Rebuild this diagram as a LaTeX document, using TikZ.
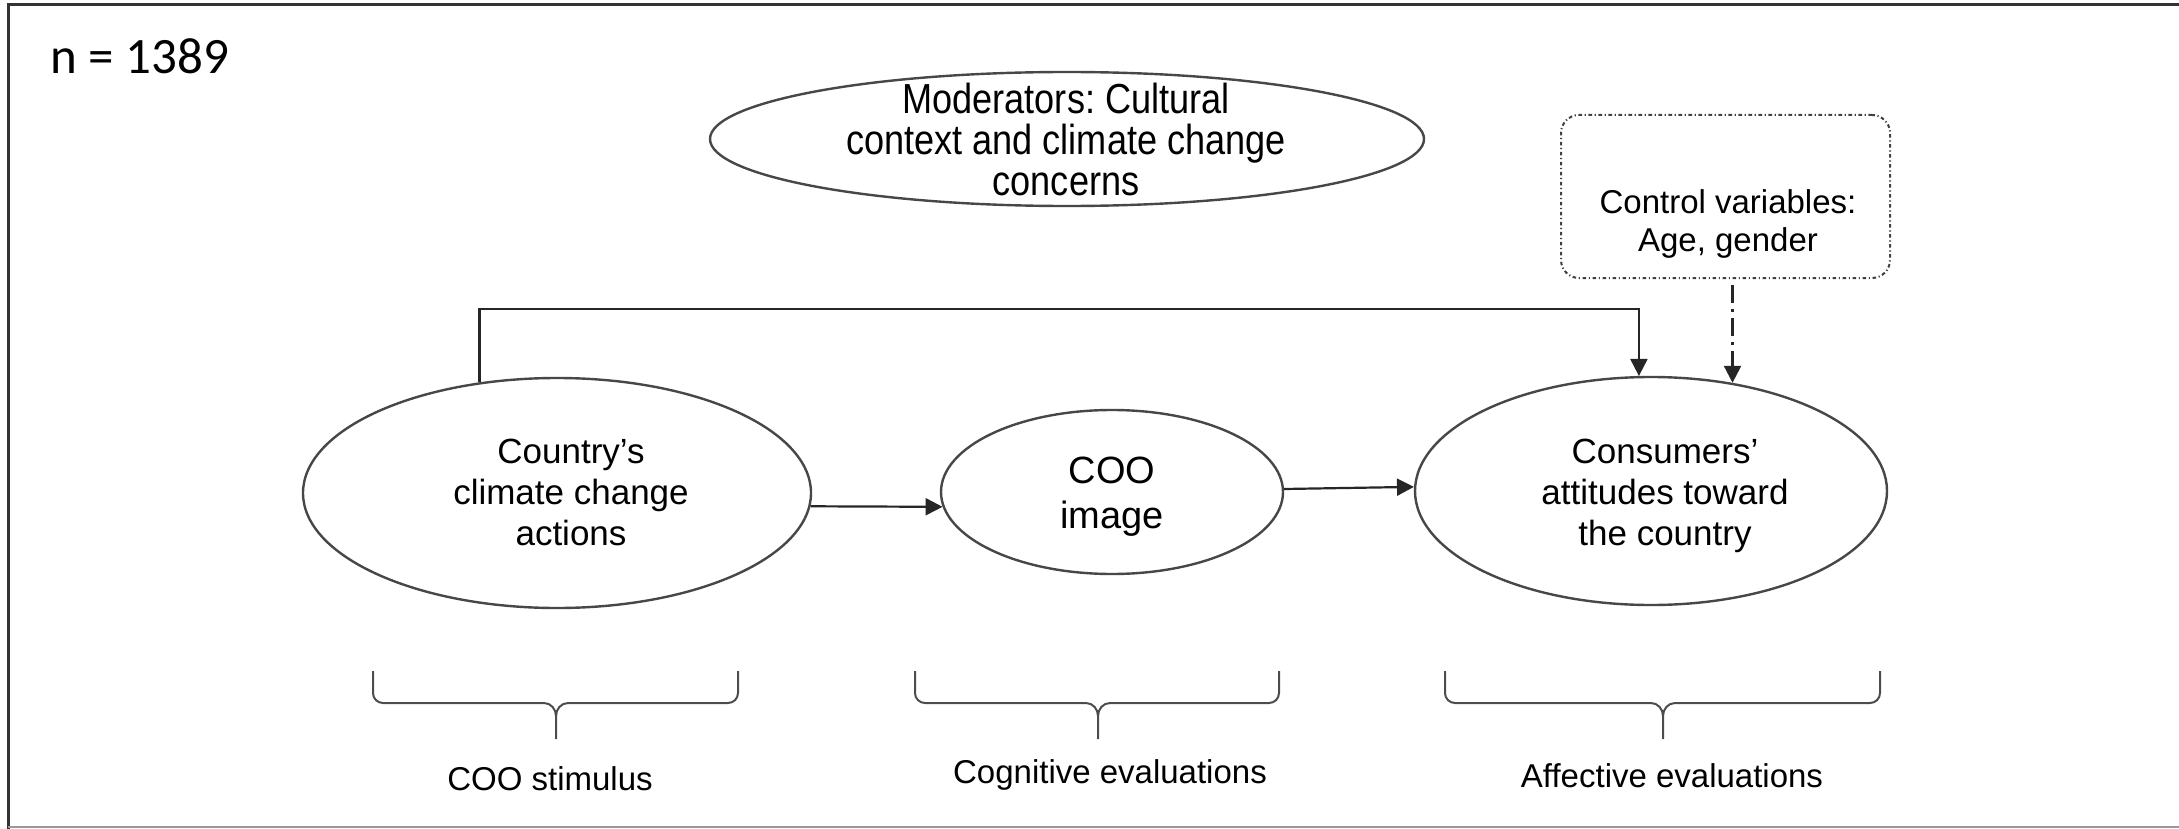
\documentclass[tikz,border=0pt]{standalone}
\usepackage{fontspec}
\setmainfont{Liberation Sans}
\newfontfamily\calibfont{Carlito}
\newfontfamily\narrowfont{Liberation Sans}[FakeStretch=0.86]
\usetikzlibrary{arrows.meta,shapes.geometric}
\frenchspacing
\begin{document}
\begin{tikzpicture}[x=0.5pt,y=-0.5pt,
  oval/.style={ellipse, draw=black!72, line width=1.2pt, inner sep=0pt},
  txt/.style={align=center, inner sep=0pt, text=black},
  tip/.style={-{Triangle[length=8.5pt,width=8.5pt]}},
  conn/.style={draw=black!85, line width=1.1pt, tip},
  bracepath/.style={draw=black!70, line width=1pt, line join=round},
  lbl/.style={txt, font=\fontsize{16.5}{19}\selectfont, anchor=base},
]
\useasboundingbox (0,0) rectangle (2179,829);
% frame
\draw[black!80, line width=1.5pt] (2179,5) -- (8,5) -- (8,829);
\draw[black!40, line width=1pt] (8,827) -- (2179,827);

\node[anchor=base west, inner sep=0pt, font=\calibfont\fontsize{25.5}{30}\selectfont] (n) at (50,74) {n = 1389};

% moderators
\node[oval, minimum width=357pt, minimum height=67pt] (mod) at (1067,139) {};
\node[txt, font=\narrowfont\fontsize{21}{20.5}\selectfont] (modtxt) at (1066,139) {Moderators: Cultural\\context and climate change\\concerns};

% control variables
\node[draw=black!75, line width=1pt, dash pattern=on 1.8pt off 1.3pt on 0.6pt off 1.3pt,
      rounded corners=9pt, minimum width=164.5pt, minimum height=81.5pt, inner sep=0pt] (ctrl) at (1725.5,196.5) {};
\node[txt, font=\fontsize{16.5}{19}\selectfont] (ctrltxt) at (1728,224) {Control variables:\\Age, gender};

% main ellipses
\node[oval, minimum width=254pt, minimum height=115pt] (e1) at (557,493) {};
\node[txt, font=\fontsize{17.5}{20.5}\selectfont] (e1txt) at (571,492) {Country’s\\climate change\\actions};

\node[oval, minimum width=171pt, minimum height=82pt] (e2) at (1112,492) {};
\node[txt, font=\fontsize{19}{22.5}\selectfont] (e2txt) at (1112,497) {COO\\image};

\node[oval, minimum width=236pt, minimum height=114pt] (e3) at (1651,491) {};
\node[txt, font=\fontsize{17.5}{20.5}\selectfont] (e3txt) at (1665,496) {Consumers’\\attitudes toward\\the country};

% connectors
\draw[conn] (e1.-3.64) -- (e2.185.8);
\draw[conn] (e2.1.3) -- (e3.179.3);
\coordinate (bus) at (1000,309);
\draw[conn] (e1.125.6) -- (e1.125.6 |- bus) -- (e3.96 |- bus) -- (e3.96);
\draw[conn, dash pattern=on 9pt off 3pt on 1.5pt off 3pt, shorten <=3pt] (ctrl.south -| e3.53.7) -- (e3.53.7);

% braces
\foreach \L/\C/\R in {373/556/738, 915/1098/1279, 1445/1663/1880} {
  \draw[bracepath] (\L,671) -- (\L,693) to[out=-90,in=180] (\L+10,703) -- (\C-12,703) to[out=0,in=90] (\C,716) -- (\C,739);
  \draw[bracepath] (\R,671) -- (\R,693) to[out=-90,in=0] (\R-10,703) -- (\C+12,703) to[out=180,in=90] (\C,716);
}

\node[lbl] (l1) at (550,790) {COO stimulus};
\node[lbl] (l2) at (1110,783) {Cognitive evaluations};
\node[lbl] (l3) at (1672,787) {Affective evaluations};
\end{tikzpicture}
\end{document}
